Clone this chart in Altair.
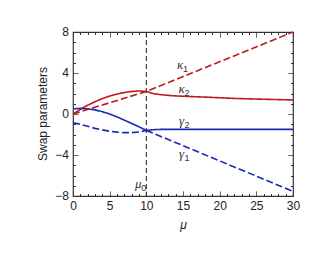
import altair as alt
import pandas as pd

# ---- data ----
mu_pre = [0, 1, 2, 3, 4, 5, 6, 7, 8, 9, 10]
kappa2_pre = [0.0, 0.45, 0.85, 1.2, 1.5, 1.75, 1.95, 2.1, 2.2, 2.25, 2.2]
gamma2_pre = [0.5, 0.55, 0.5, 0.4, 0.22, 0.0, -0.28, -0.6, -0.92, -1.25, -1.6]
gamma1_pre = [-0.85, -1.0, -1.2, -1.4, -1.55, -1.68, -1.77, -1.82, -1.82, -1.75, -1.6]

mu_k1 = [0, 10, 30]
kappa1 = [0.0, 2.2, 8.0]

mu_post = [10, 11, 12, 13.6, 16, 18, 22, 26, 30]
kappa2_post = [2.2, 1.98, 1.88, 1.78, 1.7, 1.65, 1.52, 1.44, 1.37]
gamma2_post = [-1.6, -1.53, -1.5, -1.5, -1.5, -1.5, -1.5, -1.5, -1.5]

mu_g1_post = [10, 30]
gamma1_post = [-1.6, -7.55]

mu0 = 10

label_main = ["κ", "κ", "γ", "γ", "μ"]
label_sub = ["1", "2", "2", "1", "0"]
label_mu = [14.6, 14.8, 14.8, 14.8, 8.9]
label_val = [4.75, 2.45, -0.7, -3.9, -6.85]

y_tick_values = [-8, -4, 0, 4, 8]
y_tick_labels = ["−8", "−4", "0", "4", "8"]
y_title = "Swap parameters"

# ---- build table ----
rows = []
def add(name, style, color, xs, ys):
    for i, (a, b) in enumerate(zip(xs, ys)):
        rows.append({"seg": name, "style": style, "color": color, "mu": a, "v": b, "o": i})

RED = "#c0181c"
BLUE = "#1c28b8"
add("k1", "dash", RED, mu_k1, kappa1)
add("k2a", "solid", RED, mu_pre, kappa2_pre)
add("k2b", "solid", RED, mu_post, kappa2_post)
add("g2a", "solid", BLUE, mu_pre, gamma2_pre)
add("g2b", "solid", BLUE, mu_post, gamma2_post)
add("g1a", "dash", BLUE, mu_pre, gamma1_pre)
add("g1b", "dash", BLUE, mu_g1_post, gamma1_post)
df = pd.DataFrame(rows)

xs = alt.Scale(domain=[0, 30], nice=False, zero=False)
ys = alt.Scale(domain=[-8, 8], nice=False, zero=False)

def line_layer(style, dash):
    return alt.Chart(df).transform_filter(alt.datum.style == style).mark_line(
        strokeWidth=1.6, strokeDash=dash
    ).encode(
        x=alt.X("mu:Q", scale=xs, axis=None),
        y=alt.Y("v:Q", scale=ys, axis=None),
        detail="seg:N",
        order="o:Q",
        color=alt.Color("color:N", scale=None),
    )

solid = line_layer("solid", [1, 0])
dashed = line_layer("dash", [7, 3])

vline = alt.Chart(pd.DataFrame({"mu": [mu0]})).mark_rule(
    color="#222", strokeWidth=1, strokeDash=[5, 3]
).encode(x=alt.X("mu:Q", scale=xs, axis=None))

lab = pd.DataFrame({"t": label_main, "s": label_sub, "mu": label_mu, "v": label_val})
main_txt = alt.Chart(lab).mark_text(
    font="Liberation Serif", fontStyle="italic", fontSize=13, color="#333", align="center"
).encode(
    x=alt.X("mu:Q", scale=xs, axis=None),
    y=alt.Y("v:Q", scale=ys, axis=None),
    text="t:N",
)
sub_txt = alt.Chart(lab).mark_text(
    font="Liberation Sans", fontSize=9, color="#333", align="left", dx=3, dy=4
).encode(
    x=alt.X("mu:Q", scale=xs, axis=None),
    y=alt.Y("v:Q", scale=ys, axis=None),
    text="s:N",
)

# y tick labels and title as text placed through the y scale
ylab = alt.Chart(pd.DataFrame({"v": y_tick_values, "t": y_tick_labels})).mark_text(
    font="Liberation Sans", fontSize=12, color="#222", align="right", baseline="middle"
).encode(
    x=alt.value(-4),
    y=alt.Y("v:Q", scale=ys, axis=None),
    text="t:N",
)
ytitle = alt.Chart(pd.DataFrame({"t": [y_title]})).mark_text(
    font="Liberation Sans", fontSize=12, color="#222", align="center",
    baseline="middle", angle=270
).encode(x=alt.value(-30), y=alt.value(82), text="t:N")

x_vals = list(range(0, 31, 1))
y_vals = list(range(-8, 9, 1))

axis_common = dict(grid=False, domain=False, tickColor="#333", tickSize=5, offset=-5,
                   labelFont="Liberation Sans", labelFontSize=12, labelColor="#222",
                   titleFont="Liberation Sans", titleColor="#222", titleFontSize=12,
                   titleFontWeight="normal", labelFlush=False, labelOverlap=False,
                   labelPadding=4)

minor_dash = [0, 2.5, 2.5, 0]

def axis_layer(xorient, yorient, labels_on):
    xa = alt.Axis(orient=xorient, values=x_vals,
                  tickDash=alt.condition("datum.value % 5 === 0", alt.value([1, 0]), alt.value(minor_dash)),
                  labels=labels_on, labelExpr="datum.value % 5 === 0 ? datum.label : ''",
                  title="μ" if labels_on else None, titleFontStyle="italic",
                  titlePadding=8, **axis_common)
    ya = alt.Axis(orient=yorient, values=y_vals,
                  tickDash=alt.condition("datum.value % 4 === 0", alt.value([1, 0]), alt.value(minor_dash)),
                  labels=False, title=None, **axis_common)
    return alt.Chart(pd.DataFrame({"mu": [0], "v": [0]})).mark_point(opacity=0).encode(
        x=alt.X("mu:Q", scale=xs, axis=xa),
        y=alt.Y("v:Q", scale=ys, axis=ya),
    )

a1 = axis_layer("bottom", "left", True)
a2 = axis_layer("top", "right", False)

chart = alt.layer(a1, a2, vline, solid, dashed, main_txt, sub_txt, ylab, ytitle).resolve_axis(
    x="independent", y="independent"
).properties(
    width=220, height=164,
    autosize=alt.AutoSizeParams(type="none"),
    padding={"left": 65, "top": 24, "right": 10, "bottom": 50},
).configure_view(stroke="#333", strokeWidth=1.2)

chart.save("out.html", embed_options={"renderer": "svg", "actions": False})
